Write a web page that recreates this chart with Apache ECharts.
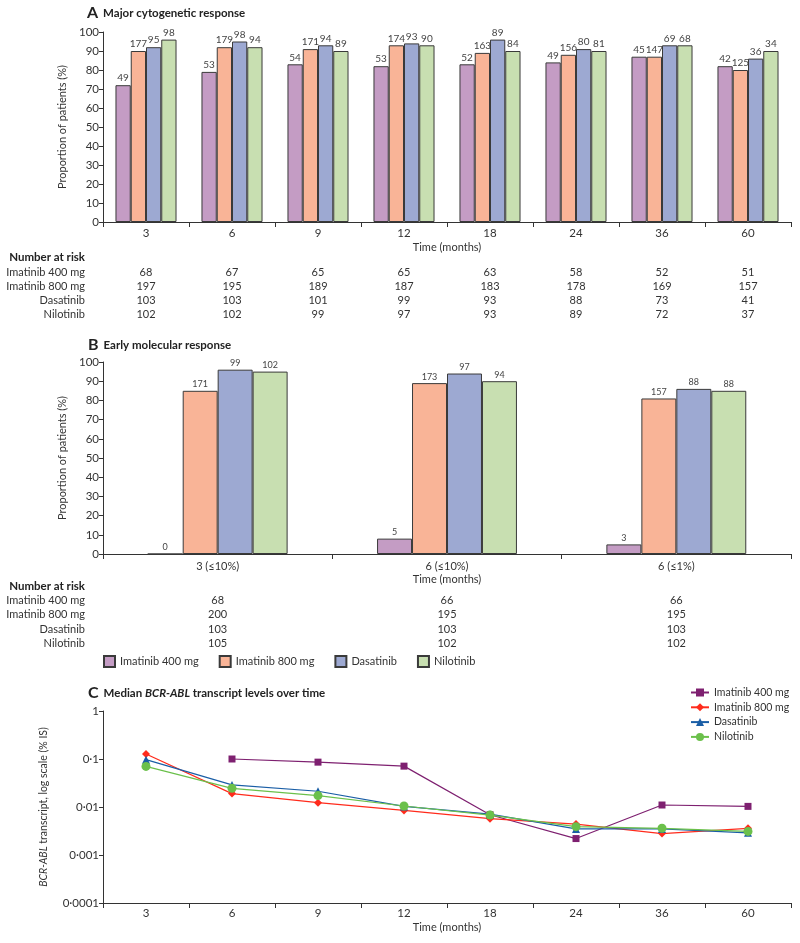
<!DOCTYPE html>
<html>
<head>
<meta charset="utf-8">
<script src="https://cdn.jsdelivr.net/npm/echarts@6/dist/echarts.min.js"></script>
<style>
  html, body { margin: 0; background: #fff; }
  #chart { width: 800px; height: 943px; }
</style>
</head>
<body>
<div id="chart"></div>
<script>
const seriesNames = ['Imatinib 400 mg', 'Imatinib 800 mg', 'Dasatinib', 'Nilotinib'];
const barColors = ['#c49cc4', '#f9b497', '#9da9d2', '#c8dfb1'];
const lineColors = ['#7e2070', '#ff2b1c', '#1a5ea6', '#6bc04b'];
const lineSymbols = ['rect', 'diamond', 'triangle', 'circle'];

// A - major cytogenetic response (%)
const monthsA = ['3', '6', '9', '12', '18', '24', '36', '60'];
const mcyrIm400 = [72, 79, 83, 82, 83, 84, 87, 82];
const mcyrIm800 = [90, 92, 91, 93, 89, 88, 87, 80];
const mcyrDasa = [92, 95, 93, 94, 96, 91, 93, 86];
const mcyrNilo = [96, 92, 90, 93, 90, 90, 93, 90];
// counts printed above bars
const nAIm400 = [49, 53, 54, 53, 52, 49, 45, 42];
const nAIm800 = [177, 179, 171, 174, 163, 156, 147, 125];
const nADasa = [95, 98, 94, 93, 89, 80, 69, 36];
const nANilo = [98, 94, 89, 90, 84, 81, 68, 34];
// number at risk
const riskAIm400 = ['68', '67', '65', '65', '63', '58', '52', '51'];
const riskAIm800 = ['197', '195', '189', '187', '183', '178', '169', '157'];
const riskADasa = ['103', '103', '101', '99', '93', '88', '73', '41'];
const riskANilo = ['102', '102', '99', '97', '93', '89', '72', '37'];

// B - early molecular response (%)
const timepointsB = ['3 (≤10%)', '6 (≤10%)', '6 (≤1%)'];
const emrIm400 = [0, 8, 5];
const emrIm800 = [85, 89, 81];
const emrDasa = [96, 94, 86];
const emrNilo = [95, 90, 85];
const nBIm400 = [0, 5, 3];
const nBIm800 = [171, 173, 157];
const nBDasa = [99, 97, 88];
const nBNilo = [102, 94, 88];
const riskBIm400 = ['68', '66', '66'];
const riskBIm800 = ['200', '195', '195'];
const riskBDasa = ['103', '103', '103'];
const riskBNilo = ['105', '102', '102'];

// C - median BCR-ABL transcript levels (% IS)
const monthsC = ['3', '6', '9', '12', '18', '24', '36', '60'];
const bcrIm400 = [null, 0.1, 0.086, 0.071, 0.0069, 0.0022, 0.011, 0.0103];
const bcrIm800 = [0.127, 0.019, 0.0123, 0.0085, 0.0057, 0.0044, 0.0028, 0.0036];
const bcrDasa = [0.097, 0.0288, 0.0213, 0.0103, 0.0071, 0.0035, 0.0035, 0.0029];
const bcrNilo = [0.07, 0.0245, 0.0173, 0.0105, 0.0068, 0.0039, 0.0036, 0.0031];
const logTickLabels = ['0·0001', '0·001', '0·01', '0·1', '1'];

const FONT = 'Lato, "Open Sans", sans-serif';
const AX = '#333';
const TXT = '#333';

const chart = echarts.init(document.getElementById('chart'));

function mainX(gridIndex, data, labelMargin, nameGap, fontSize) {
  return {
    type: 'category', gridIndex, data,
    axisLine: { lineStyle: { color: AX, width: 1 } },
    axisTick: { show: true, interval: 0, length: 5, lineStyle: { color: AX } },
    axisLabel: { interval: 0, margin: labelMargin, color: TXT, fontFamily: FONT, fontSize: fontSize },
    name: 'Time (months)', nameLocation: 'middle', nameGap,
    nameTextStyle: { fontFamily: FONT, fontSize: 11, color: TXT }
  };
}

function riskX(gridIndex, data, name, offset) {
  return {
    type: 'category', gridIndex, data, position: 'bottom', offset,
    axisLine: { show: false }, axisTick: { show: false },
    axisLabel: { interval: 0, margin: 0, verticalAlign: 'middle', color: TXT, fontFamily: FONT, fontSize: 11 },
    name, nameLocation: 'start', nameGap: 18,
    nameTextStyle: { fontFamily: FONT, fontSize: 11, color: TXT, verticalAlign: 'middle' }
  };
}

function pctY(gridIndex) {
  return {
    type: 'value', gridIndex, min: 0, max: 100, interval: 10,
    axisLine: { show: true, lineStyle: { color: AX } },
    axisTick: { show: true, length: 4, lineStyle: { color: AX } },
    splitLine: { show: false },
    axisLabel: { margin: 4, color: TXT, fontFamily: FONT, fontSize: 11.5 },
    name: 'Proportion of patients (%)', nameLocation: 'middle', nameGap: 28,
    nameTextStyle: { fontFamily: FONT, fontSize: 11, color: TXT }
  };
}

function bars(gridIdx, xIdx, values, counts, i, gap, labelSize) {
  return {
    type: 'bar', name: seriesNames[i], xAxisIndex: xIdx, yAxisIndex: gridIdx,
    data: values, barGap: 0, barCategoryGap: gap,
    itemStyle: { color: barColors[i], borderColor: '#3a3a3a', borderWidth: 1 },
    label: {
      show: true, position: 'top', distance: 2, color: '#444',
      fontFamily: FONT, fontSize: labelSize,
      formatter: p => String(counts[p.dataIndex])
    }
  };
}

function line(values, i, size) {
  return {
    type: 'line', name: 'C:' + seriesNames[i], xAxisIndex: 10, yAxisIndex: 2,
    data: values, symbol: lineSymbols[i], symbolSize: size,
    lineStyle: { color: lineColors[i], width: 1.2 },
    itemStyle: { color: lineColors[i] }
  };
}

const richTitle = {
  l: { fontSize: 16, fontFamily: FONT, color: '#222', padding: [0, 5, 0, 0] },
  t: { fontSize: 11.5, fontWeight: 'bold', fontFamily: FONT, color: '#222' },
  ti: { fontSize: 11.5, fontWeight: 'bold', fontStyle: 'italic', fontFamily: FONT, color: '#222' }
};

const option = {
  animation: false,
  backgroundColor: '#fff',
  title: [
    { left: 87, top: 5, padding: 0, text: '{l|A}{t|Major cytogenetic response}', textStyle: { rich: richTitle } },
    { right: 715, top: 251, padding: 0, text: 'Number at risk',
      textStyle: { fontSize: 11.5, fontWeight: 'bold', fontFamily: FONT, color: '#222' } },
    { left: 88, top: 337, padding: 0, text: '{l|B}{t|Early molecular response}', textStyle: { rich: richTitle } },
    { right: 715, top: 580, padding: 0, text: 'Number at risk',
      textStyle: { fontSize: 11.5, fontWeight: 'bold', fontFamily: FONT, color: '#222' } },
    { left: 88, top: 685, padding: 0, text: '{l|C}{t|Median }{ti|BCR-ABL}{t| transcript levels over time}',
      textStyle: { rich: richTitle } }
  ],
  legend: [
    { data: seriesNames, left: 103, top: 655, padding: 0, icon: 'rect', itemWidth: 11, itemHeight: 11, itemGap: 20,
      textStyle: { fontFamily: FONT, fontSize: 11, color: TXT }, selectedMode: false },
    { data: seriesNames.map(n => 'C:' + n), orient: 'vertical', left: 690, top: 687, padding: 0,
      itemWidth: 18, itemHeight: 10, itemGap: 3.8, selectedMode: false,
      formatter: n => n.slice(2),
      textStyle: { fontFamily: FONT, fontSize: 10.5, color: TXT } }
  ],
  grid: [
    { left: 103, top: 32, width: 688, height: 190, outerBoundsMode: 'none' },
    { left: 103, top: 362, width: 688, height: 192, outerBoundsMode: 'none' },
    { left: 103, top: 711, width: 688, height: 192, outerBoundsMode: 'none' }
  ],
  xAxis: [
    mainX(0, monthsA, 5, 20, 11.5),
    riskX(0, riskAIm400, seriesNames[0], 50),
    riskX(0, riskAIm800, seriesNames[1], 64),
    riskX(0, riskADasa, seriesNames[2], 78),
    riskX(0, riskANilo, seriesNames[3], 92),
    mainX(1, timepointsB, 7, 20, 11),
    riskX(1, riskBIm400, seriesNames[0], 46),
    riskX(1, riskBIm800, seriesNames[1], 60),
    riskX(1, riskBDasa, seriesNames[2], 75),
    riskX(1, riskBNilo, seriesNames[3], 89),
    mainX(2, monthsC, 4, 19, 11.5)
  ],
  yAxis: [
    pctY(0),
    pctY(1),
    {
      type: 'log', gridIndex: 2, logBase: 10, min: 0.0001, max: 1,
      axisLine: { show: true, lineStyle: { color: AX } },
      axisTick: { show: true, length: 4, lineStyle: { color: AX } },
      splitLine: { show: false },
      axisLabel: {
        margin: 4, color: TXT, fontFamily: FONT, fontSize: 11.5,
        formatter: v => logTickLabels[Math.round(Math.log10(v)) + 4]
      },
      name: '{i|BCR-ABL}{n| transcript, log scale (% IS)}', nameLocation: 'middle', nameGap: 54,
      nameTextStyle: { rich: { i: { fontStyle: 'italic', fontFamily: FONT, fontSize: 10.5, color: TXT },
                               n: { fontFamily: FONT, fontSize: 10.5, color: TXT } } }
    }
  ],
  series: [
    bars(0, 0, mcyrIm400, nAIm400, 0, '29%', 10),
    bars(0, 0, mcyrIm800, nAIm800, 1, '29%', 10),
    bars(0, 0, mcyrDasa, nADasa, 2, '29%', 10),
    bars(0, 0, mcyrNilo, nANilo, 3, '29%', 10),
    bars(1, 5, emrIm400, nBIm400, 0, '39%', 9),
    bars(1, 5, emrIm800, nBIm800, 1, '39%', 9),
    bars(1, 5, emrDasa, nBDasa, 2, '39%', 9),
    bars(1, 5, emrNilo, nBNilo, 3, '39%', 9),
    line(bcrIm400, 0, 7),
    line(bcrIm800, 1, 8),
    line(bcrDasa, 2, 8),
    line(bcrNilo, 3, 9)
  ]
};

chart.setOption(option);
</script>
</body>
</html>
